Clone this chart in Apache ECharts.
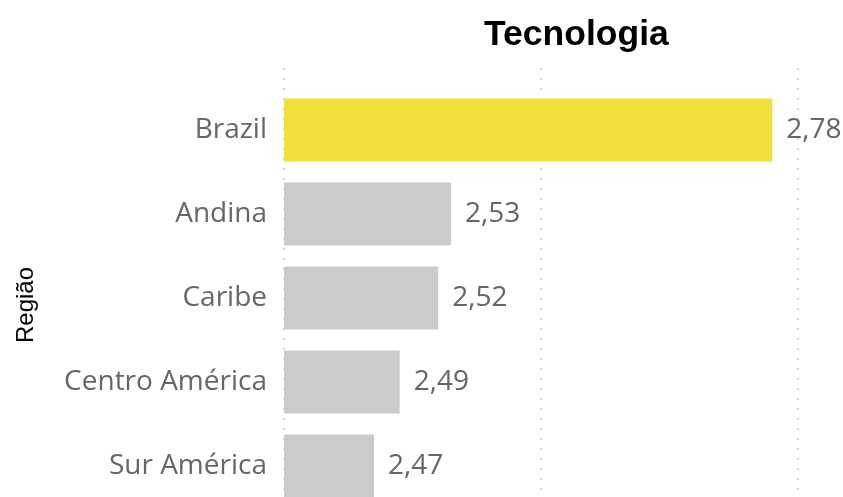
<!DOCTYPE html>
<html>
<head>
<meta charset="utf-8">
<script src="https://cdn.jsdelivr.net/npm/echarts@6/dist/echarts.min.js"></script>
<style>
html, body { margin: 0; padding: 0; background: #fff; overflow: hidden; }
#main { width: 843px; height: 508px; }
</style>
</head>
<body>
<div id="main"></div>
<script>
var regioes = ['Brazil', 'Andina', 'Caribe', 'Centro América', 'Sur América'];
var valores = [2.78, 2.53, 2.52, 2.49, 2.47];
var destaque = 'Brazil';

var chart = echarts.init(document.getElementById('main'));

var barData = [];
for (var i = 0; i < regioes.length; i++) {
    barData.push({
        value: valores[i],
        itemStyle: { color: regioes[i] == destaque ? '#F3DF3A' : '#CBCBCB' }
    });
}

// formato com vírgula
var fmt = function(v) {
    return v.toFixed(2).replace('.', ',');
};

var option = {
    title: {
        text: 'Tecnologia',
        left: 479,
        top: 12,
        textStyle: {
            fontFamily: 'Liberation Sans',
            fontWeight: 'bold',
            fontSize: 35.5,
            color: '#000'
        }
    },
    grid: [
        { left: 284, right: 45, top: 88, bottom: 0 },
        { left: 284, right: 45, top: 68, bottom: 0 }
    ],
    xAxis: [ {
        type: 'value',
        gridIndex: 0,
        min: 2.4,
        max: 2.8,
        interval: 0.2,
        axisLabel: { show: false },
        axisLine: { show: false },
        axisTick: { show: false },
        splitLine: { show: false }
    }, {
        type: 'value',
        gridIndex: 1,
        min: 2.4,
        max: 2.8,
        interval: 0.2,
        axisLabel: { show: false },
        axisLine: { show: false },
        axisTick: { show: false },
        splitLine: {
            show: true,
            lineStyle: { color: '#C8C8C8', width: 1.5, type: [2, 8] }
        }
    } ],
    yAxis: [ {
        type: 'category',
        gridIndex: 0,
        inverse: true,
        data: regioes,
        name: 'Região',
        nameLocation: 'middle',
        nameRotate: 90,
        nameGap: 246,
        nameTextStyle: {
            fontFamily: 'Liberation Sans',
            fontSize: 24,
            color: '#000',
            padding: [0, 14, 0, 0]
        },
        axisLine: { show: false },
        axisTick: { show: false },
        axisLabel: {
            margin: 17,
            fontFamily: 'Open Sans',
            fontSize: 28,
            color: '#666666'
        }
    }, {
        type: 'category',
        gridIndex: 1,
        show: false,
        data: regioes
    } ],
    series: [ {
        type: 'bar',
        xAxisIndex: 0,
        yAxisIndex: 0,
        barCategoryGap: '25%',
        data: barData,
        label: {
            show: true,
            position: 'right',
            distance: 14,
            fontFamily: 'Open Sans',
            fontSize: 28,
            color: '#666666',
            formatter: function(p) {
                return fmt(p.value);
            }
        }
    } ]
};

chart.setOption(option);
</script>
</body>
</html>
